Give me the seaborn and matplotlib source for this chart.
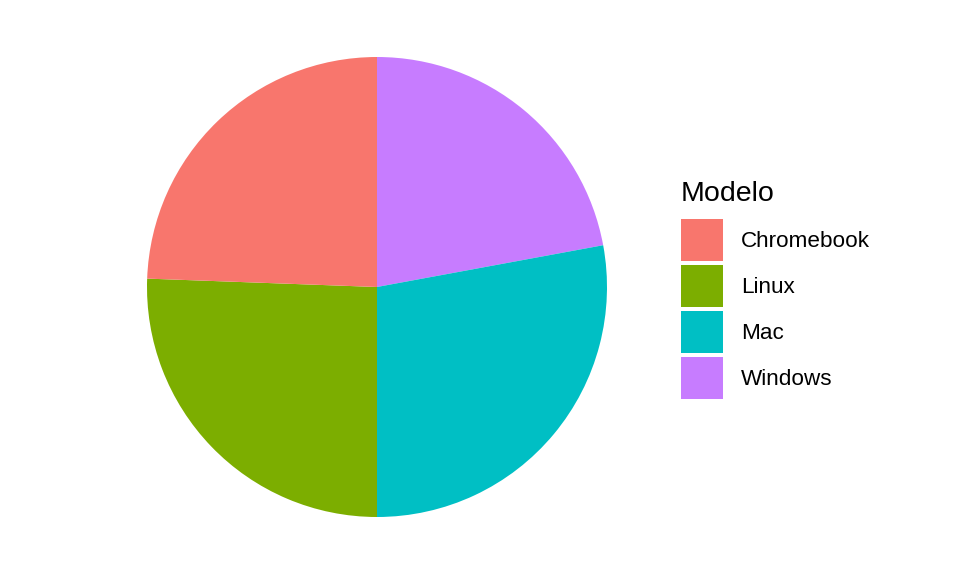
import matplotlib
matplotlib.use("Agg")
import matplotlib.pyplot as plt
from matplotlib.patches import Patch
import seaborn as sns

# data (counts)
modelos = ["Chromebook", "Linux", "Mac", "Windows"]
cantidad = [21, 22, 24, 19]
colores = sns.color_palette(["#F8766D", "#7CAE00", "#00BFC4", "#C77CFF"])

sns.set_theme(style="white")
plt.rcParams["font.family"] = ["Liberation Sans", "DejaVu Sans"]
plt.rcParams["text.color"] = "black"

fig = plt.figure(figsize=(9.6, 5.76), dpi=100)
W, H = 960, 576
cx, cy, r = 377, 287, 230
ax = fig.add_axes([(cx - r) / W, (H - cy - r) / H, 2 * r / W, 2 * r / H])

# ggplot coord_polar: last level starts at 12 o'clock, clockwise
ax.pie(cantidad[::-1], colors=colores[::-1], startangle=90, counterclock=False,
       radius=1, wedgeprops={"linewidth": 0})
ax.set_xlim(-1, 1)
ax.set_ylim(-1, 1)
ax.set_aspect("equal")
ax.axis("off")

handles = [Patch(facecolor=c, edgecolor="none") for c in colores]
leg = fig.legend(handles, modelos, title="Modelo", loc="upper left",
                 bbox_to_anchor=(681 / W, 1 - 181 / H), frameon=False,
                 fontsize=16.2, title_fontsize=20.5, alignment="left",
                 handlelength=1.87, handleheight=2.5, handletextpad=0.8,
                 labelspacing=0.18, borderaxespad=0, borderpad=0)
leg._legend_box.sep = 8.6  # more room between title and keys
for t in leg.get_texts():
    t.set_color("black")
leg.get_title().set_color("black")

fig.savefig("out.png", dpi=100, facecolor="white")
